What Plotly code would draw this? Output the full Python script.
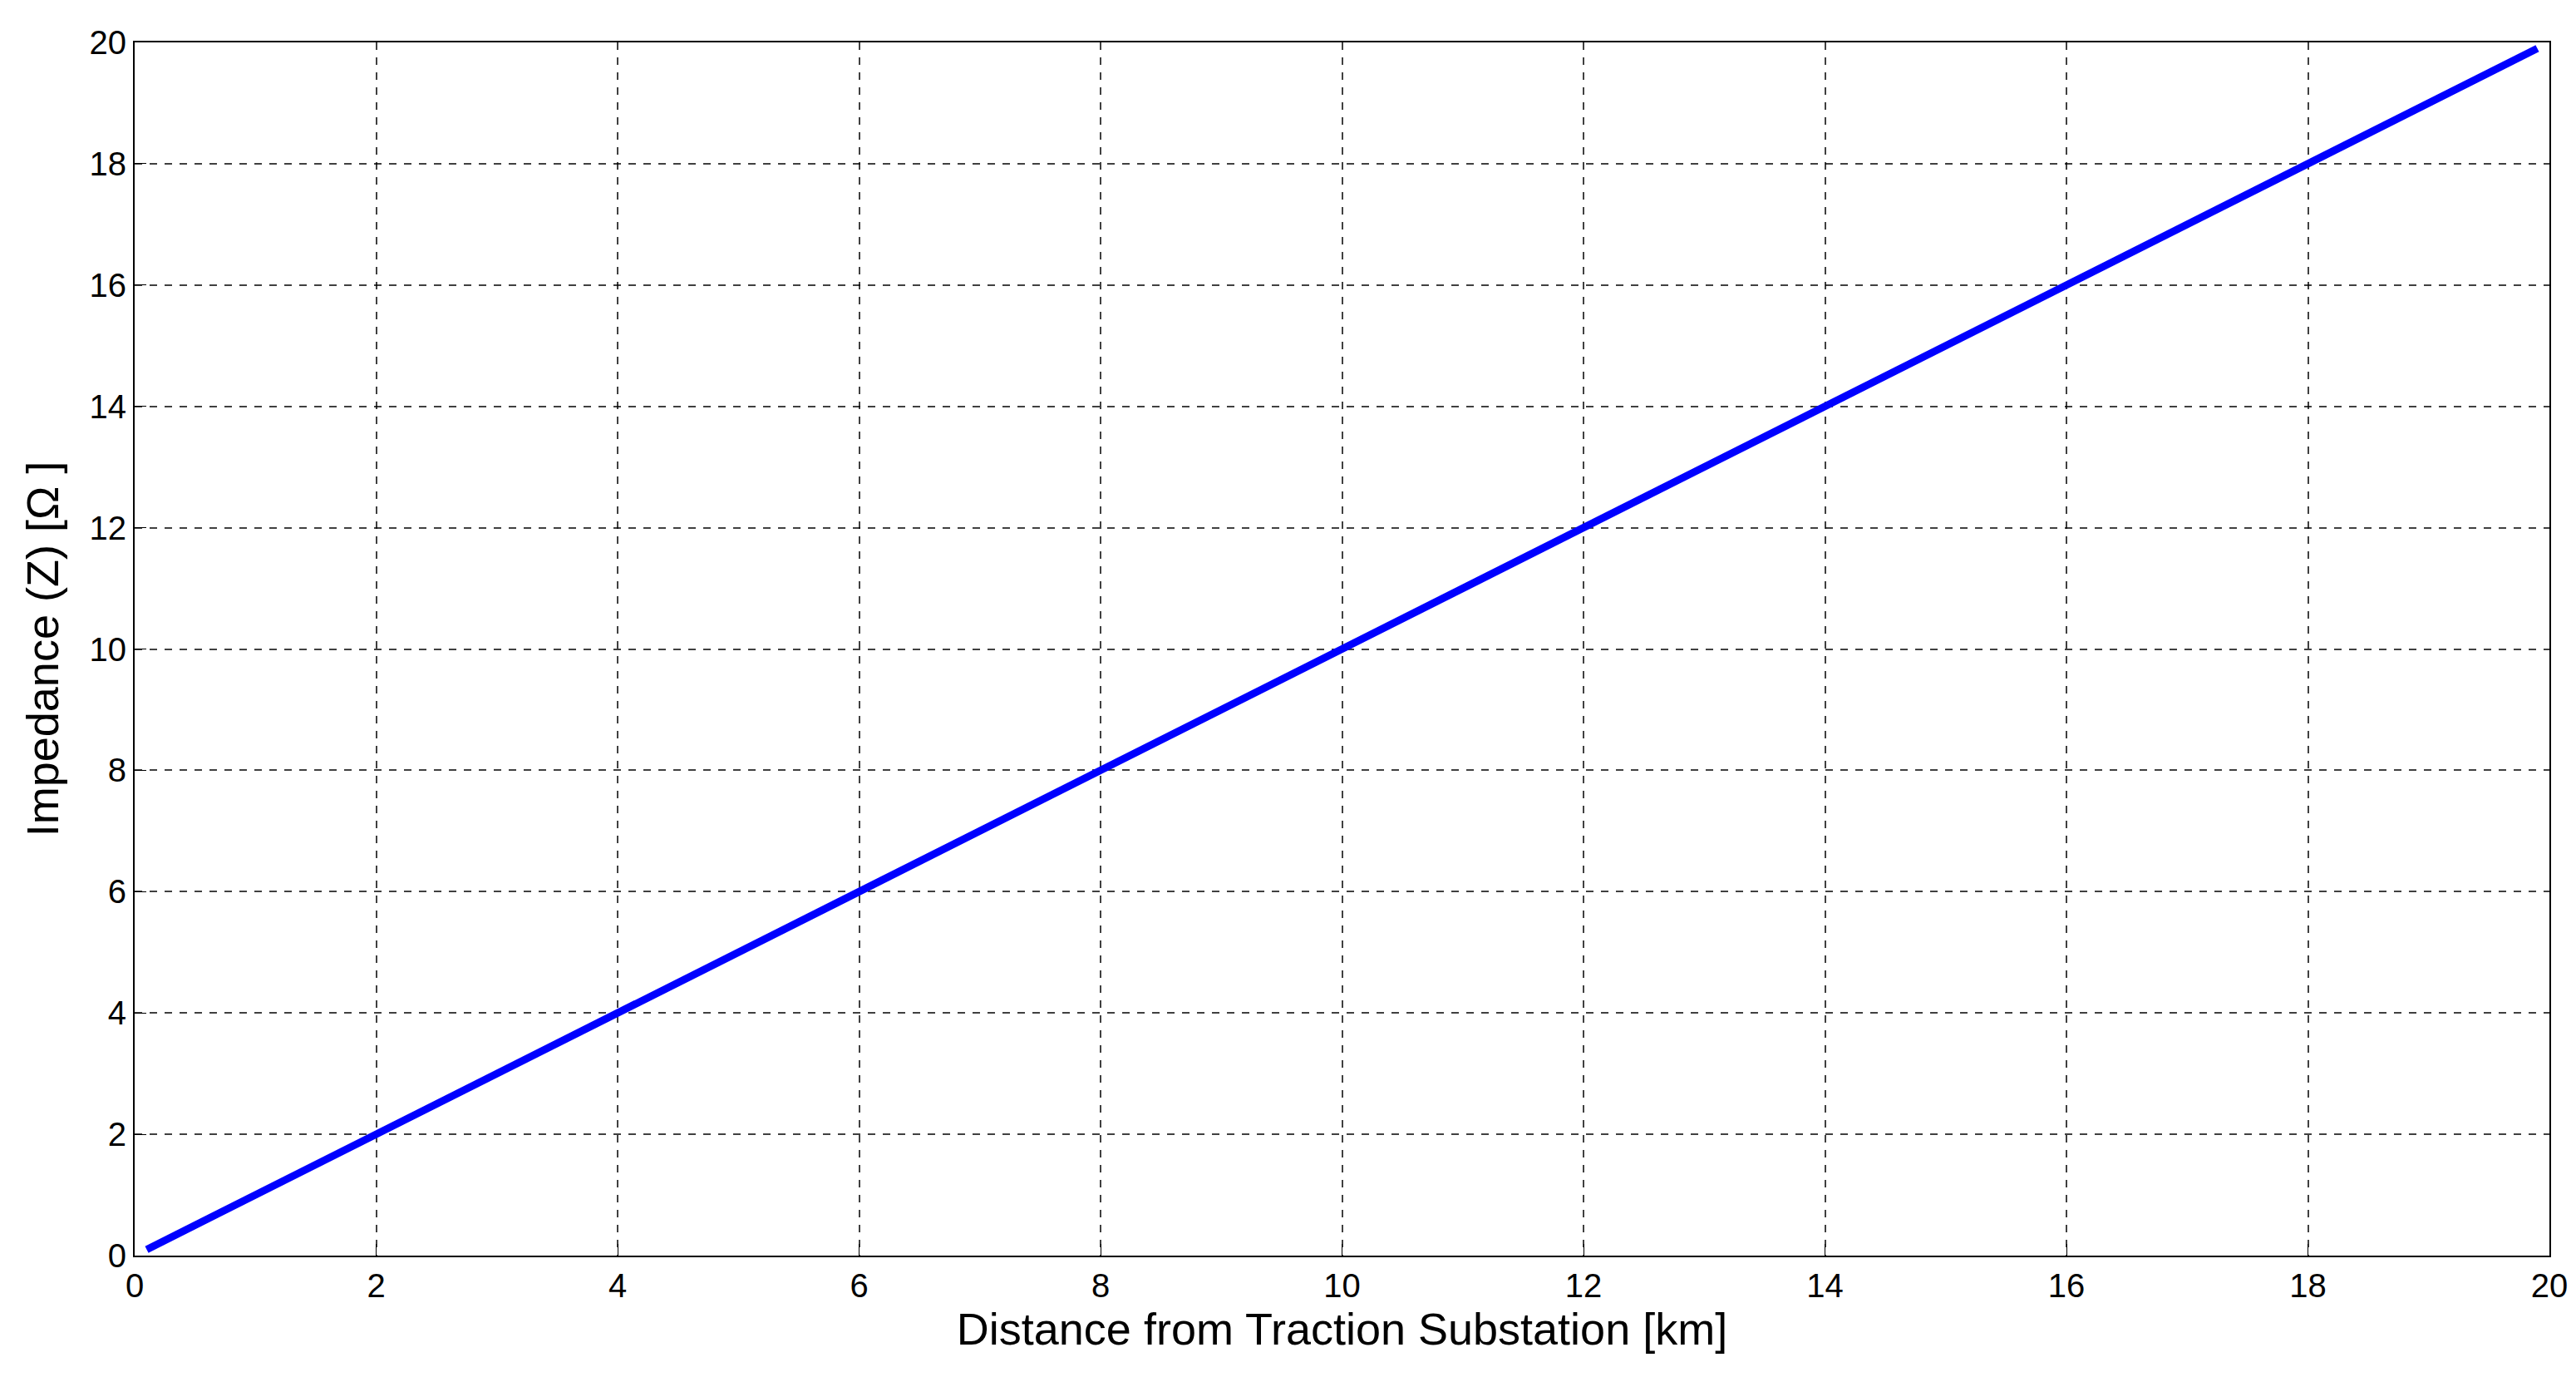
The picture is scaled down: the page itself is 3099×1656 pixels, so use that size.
import plotly.graph_objects as go

# distance [km] and impedance [ohm]
distance_km = [0.1, 0.5, 1, 1.5, 2, 2.5, 3, 3.5, 4, 4.5, 5, 5.5, 6, 6.5, 7, 7.5, 8, 8.5, 9, 9.5,
               10, 10.5, 11, 11.5, 12, 12.5, 13, 13.5, 14, 14.5, 15, 15.5, 16, 16.5, 17, 17.5,
               18, 18.5, 19, 19.5, 19.9]
impedance_ohm = [0.1, 0.5, 1.0, 1.5, 2.0, 2.5, 3.0, 3.5, 4.0, 4.5, 5.0, 5.5, 6.0, 6.5, 7.0, 7.5,
                 8.0, 8.5, 9.0, 9.5, 10.0, 10.5, 11.0, 11.5, 12.0, 12.5, 13.0, 13.5, 14.0, 14.5,
                 15.0, 15.5, 16.0, 16.5, 17.0, 17.5, 18.0, 18.5, 19.0, 19.5, 19.9]
tick_vals = list(range(0, 21, 2))

fig = go.Figure()
fig.add_trace(go.Scatter(x=distance_km, y=impedance_ohm, mode="lines",
                         line=dict(color="#0000ff", width=9), showlegend=False))

axis_style = dict(range=[0, 20], tickvals=tick_vals, showline=True, linecolor="black", linewidth=2,
                  mirror=True, ticks="inside", ticklen=14, tickcolor="black",
                  showgrid=True, gridcolor="rgba(0,0,0,0.75)", griddash="dash", gridwidth=2,
                  zeroline=False, tickfont=dict(size=40, color="black"))

fig.update_xaxes(**axis_style, title=dict(text="Distance from Traction Substation [km]",
                                          font=dict(size=54, color="black"), standoff=8))
fig.update_yaxes(**axis_style, title=dict(text="Impedance (Z) [Ω ]",
                                          font=dict(size=54, color="black"), standoff=20))

fig.update_layout(width=3099, height=1656, plot_bgcolor="white", paper_bgcolor="white",
                  font=dict(family="Liberation Sans, Arial, sans-serif"),
                  margin=dict(l=154, r=40, t=43, b=154))

fig.write_html("out.html")
